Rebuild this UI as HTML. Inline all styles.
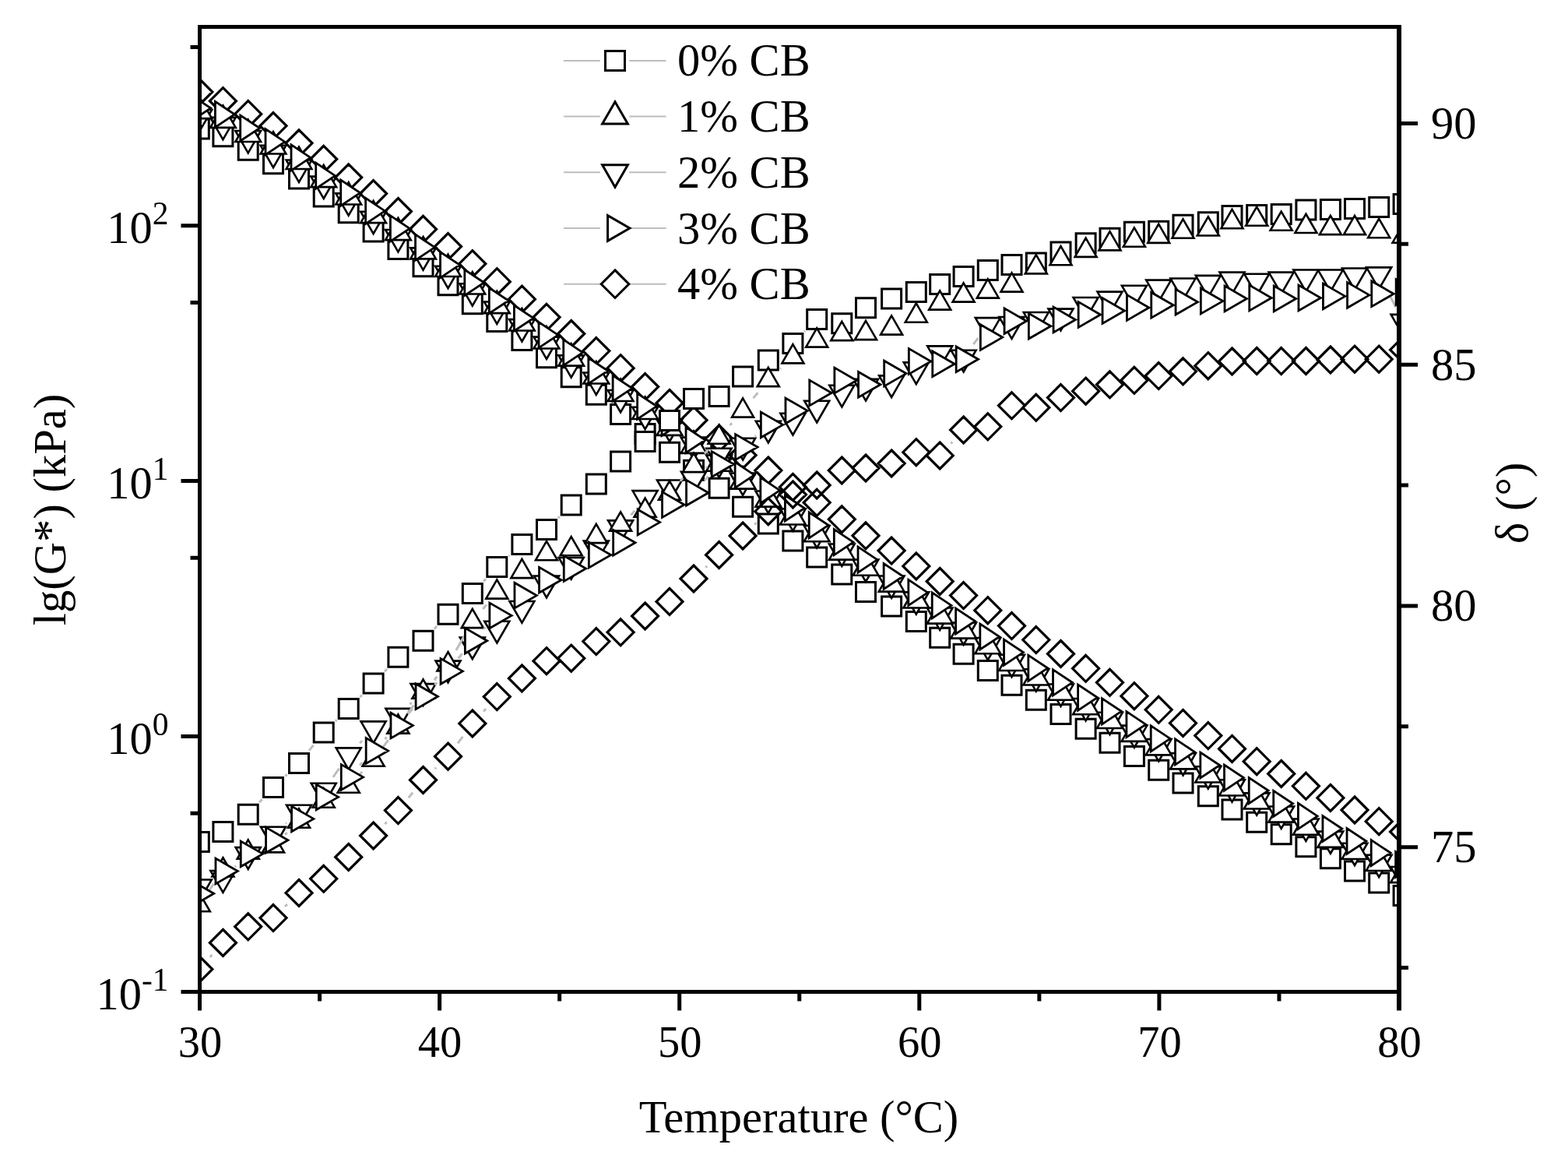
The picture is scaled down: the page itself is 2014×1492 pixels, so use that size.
<!DOCTYPE html><html><head><meta charset="utf-8"><title>lg(G*) and δ vs Temperature</title>
<style>html,body{margin:0;padding:0;background:#fff;}svg{display:block;}</style></head><body>
<svg width="2014" height="1492" viewBox="0 0 2014 1492">
<rect width="2014" height="1492" fill="#fff"/>
<defs><clipPath id="pc"><rect x="256.5" y="34.5" width="1540.5" height="1239"/></clipPath></defs>
<g clip-path="url(#pc)" stroke-linejoin="miter" stroke-miterlimit="4">
<path d="M243.3 153 L268.3 153 L268.3 178 L243.3 178 ZM273.9 162.8 L298.9 162.8 L298.9 187.8 L273.9 187.8 ZM306.2 180.2 L331.2 180.2 L331.2 205.2 L306.2 205.2 ZM338.5 197.8 L363.5 197.8 L363.5 222.8 L338.5 222.8 ZM371.5 217.1 L396.5 217.1 L396.5 242.1 L371.5 242.1 ZM403.2 239.9 L428.2 239.9 L428.2 264.9 L403.2 264.9 ZM435.2 260.8 L460.2 260.8 L460.2 285.8 L435.2 285.8 ZM467.1 285 L492.1 285 L492.1 310 L467.1 310 ZM498.9 307.6 L523.9 307.6 L523.9 332.6 L498.9 332.6 ZM531 329.7 L556 329.7 L556 354.7 L531 354.7 ZM563 353.8 L588 353.8 L588 378.8 L563 378.8 ZM594.3 377.8 L619.3 377.8 L619.3 402.8 L594.3 402.8 ZM625.8 400.5 L650.8 400.5 L650.8 425.5 L625.8 425.5 ZM657.9 424.6 L682.9 424.6 L682.9 449.6 L657.9 449.6 ZM689.5 446.7 L714.5 446.7 L714.5 471.7 L689.5 471.7 ZM721.2 471.8 L746.2 471.8 L746.2 496.8 L721.2 496.8 ZM753.3 494.3 L778.3 494.3 L778.3 519.3 L753.3 519.3 ZM784.6 519.6 L809.6 519.6 L809.6 544.6 L784.6 544.6 ZM816.1 544.5 L841.1 544.5 L841.1 569.5 L816.1 569.5 ZM847.5 568.2 L872.5 568.2 L872.5 593.2 L847.5 593.2 ZM878.5 591.2 L903.5 591.2 L903.5 616.2 L878.5 616.2 ZM911.1 614.2 L936.1 614.2 L936.1 639.2 L911.1 639.2 ZM941.6 638.3 L966.6 638.3 L966.6 663.3 L941.6 663.3 ZM974.3 660.1 L999.3 660.1 L999.3 685.1 L974.3 685.1 ZM1005.9 682 L1030.9 682 L1030.9 707 L1005.9 707 ZM1036.7 703 L1061.7 703 L1061.7 728 L1036.7 728 ZM1068.8 725 L1093.8 725 L1093.8 750 L1068.8 750 ZM1099.5 747.5 L1124.5 747.5 L1124.5 772.5 L1099.5 772.5 ZM1132.6 765.9 L1157.6 765.9 L1157.6 790.9 L1132.6 790.9 ZM1164.3 785.5 L1189.3 785.5 L1189.3 810.5 L1164.3 810.5 ZM1194.7 806.3 L1219.7 806.3 L1219.7 831.3 L1194.7 831.3 ZM1225.1 827.2 L1250.1 827.2 L1250.1 852.2 L1225.1 852.2 ZM1256.3 848.5 L1281.3 848.5 L1281.3 873.5 L1256.3 873.5 ZM1287 867.2 L1312 867.2 L1312 892.2 L1287 892.2 ZM1318.3 886.3 L1343.3 886.3 L1343.3 911.3 L1318.3 911.3 ZM1350 904.4 L1375 904.4 L1375 929.4 L1350 929.4 ZM1382.1 923.3 L1407.1 923.3 L1407.1 948.3 L1382.1 948.3 ZM1413 941.3 L1438 941.3 L1438 966.3 L1413 966.3 ZM1444.4 958.5 L1469.4 958.5 L1469.4 983.5 L1444.4 983.5 ZM1475.7 976.3 L1500.7 976.3 L1500.7 1001.3 L1475.7 1001.3 ZM1507 993.1 L1532 993.1 L1532 1018.1 L1507 1018.1 ZM1539.3 1009.7 L1564.3 1009.7 L1564.3 1034.7 L1539.3 1034.7 ZM1570 1027.1 L1595 1027.1 L1595 1052.1 L1570 1052.1 ZM1601.7 1043.2 L1626.7 1043.2 L1626.7 1068.2 L1601.7 1068.2 ZM1633.2 1058.8 L1658.2 1058.8 L1658.2 1083.8 L1633.2 1083.8 ZM1664.9 1074.8 L1689.9 1074.8 L1689.9 1099.8 L1664.9 1099.8 ZM1696.4 1089.8 L1721.4 1089.8 L1721.4 1114.8 L1696.4 1114.8 ZM1727.5 1105.9 L1752.5 1105.9 L1752.5 1130.9 L1727.5 1130.9 ZM1758.7 1121.1 L1783.7 1121.1 L1783.7 1146.1 L1758.7 1146.1 ZM1790.1 1137.5 L1815.1 1137.5 L1815.1 1162.5 L1790.1 1162.5 Z" fill="#fff" stroke="none"/>
<path d="M243.3 153 L268.3 153 L268.3 178 L243.3 178 ZM273.9 162.8 L298.9 162.8 L298.9 187.8 L273.9 187.8 ZM306.2 180.2 L331.2 180.2 L331.2 205.2 L306.2 205.2 ZM338.5 197.8 L363.5 197.8 L363.5 222.8 L338.5 222.8 ZM371.5 217.1 L396.5 217.1 L396.5 242.1 L371.5 242.1 ZM403.2 239.9 L428.2 239.9 L428.2 264.9 L403.2 264.9 ZM435.2 260.8 L460.2 260.8 L460.2 285.8 L435.2 285.8 ZM467.1 285 L492.1 285 L492.1 310 L467.1 310 ZM498.9 307.6 L523.9 307.6 L523.9 332.6 L498.9 332.6 ZM531 329.7 L556 329.7 L556 354.7 L531 354.7 ZM563 353.8 L588 353.8 L588 378.8 L563 378.8 ZM594.3 377.8 L619.3 377.8 L619.3 402.8 L594.3 402.8 ZM625.8 400.5 L650.8 400.5 L650.8 425.5 L625.8 425.5 ZM657.9 424.6 L682.9 424.6 L682.9 449.6 L657.9 449.6 ZM689.5 446.7 L714.5 446.7 L714.5 471.7 L689.5 471.7 ZM721.2 471.8 L746.2 471.8 L746.2 496.8 L721.2 496.8 ZM753.3 494.3 L778.3 494.3 L778.3 519.3 L753.3 519.3 ZM784.6 519.6 L809.6 519.6 L809.6 544.6 L784.6 544.6 ZM816.1 544.5 L841.1 544.5 L841.1 569.5 L816.1 569.5 ZM847.5 568.2 L872.5 568.2 L872.5 593.2 L847.5 593.2 ZM878.5 591.2 L903.5 591.2 L903.5 616.2 L878.5 616.2 ZM911.1 614.2 L936.1 614.2 L936.1 639.2 L911.1 639.2 ZM941.6 638.3 L966.6 638.3 L966.6 663.3 L941.6 663.3 ZM974.3 660.1 L999.3 660.1 L999.3 685.1 L974.3 685.1 ZM1005.9 682 L1030.9 682 L1030.9 707 L1005.9 707 ZM1036.7 703 L1061.7 703 L1061.7 728 L1036.7 728 ZM1068.8 725 L1093.8 725 L1093.8 750 L1068.8 750 ZM1099.5 747.5 L1124.5 747.5 L1124.5 772.5 L1099.5 772.5 ZM1132.6 765.9 L1157.6 765.9 L1157.6 790.9 L1132.6 790.9 ZM1164.3 785.5 L1189.3 785.5 L1189.3 810.5 L1164.3 810.5 ZM1194.7 806.3 L1219.7 806.3 L1219.7 831.3 L1194.7 831.3 ZM1225.1 827.2 L1250.1 827.2 L1250.1 852.2 L1225.1 852.2 ZM1256.3 848.5 L1281.3 848.5 L1281.3 873.5 L1256.3 873.5 ZM1287 867.2 L1312 867.2 L1312 892.2 L1287 892.2 ZM1318.3 886.3 L1343.3 886.3 L1343.3 911.3 L1318.3 911.3 ZM1350 904.4 L1375 904.4 L1375 929.4 L1350 929.4 ZM1382.1 923.3 L1407.1 923.3 L1407.1 948.3 L1382.1 948.3 ZM1413 941.3 L1438 941.3 L1438 966.3 L1413 966.3 ZM1444.4 958.5 L1469.4 958.5 L1469.4 983.5 L1444.4 983.5 ZM1475.7 976.3 L1500.7 976.3 L1500.7 1001.3 L1475.7 1001.3 ZM1507 993.1 L1532 993.1 L1532 1018.1 L1507 1018.1 ZM1539.3 1009.7 L1564.3 1009.7 L1564.3 1034.7 L1539.3 1034.7 ZM1570 1027.1 L1595 1027.1 L1595 1052.1 L1570 1052.1 ZM1601.7 1043.2 L1626.7 1043.2 L1626.7 1068.2 L1601.7 1068.2 ZM1633.2 1058.8 L1658.2 1058.8 L1658.2 1083.8 L1633.2 1083.8 ZM1664.9 1074.8 L1689.9 1074.8 L1689.9 1099.8 L1664.9 1099.8 ZM1696.4 1089.8 L1721.4 1089.8 L1721.4 1114.8 L1696.4 1114.8 ZM1727.5 1105.9 L1752.5 1105.9 L1752.5 1130.9 L1727.5 1130.9 ZM1758.7 1121.1 L1783.7 1121.1 L1783.7 1146.1 L1758.7 1146.1 ZM1790.1 1137.5 L1815.1 1137.5 L1815.1 1162.5 L1790.1 1162.5 Z" fill="none" stroke="#000" stroke-width="3"/>
<path d="M255.8 169.38 L272.15 141.06 L239.45 141.06 ZM286.4 179.18 L302.75 150.86 L270.05 150.86 ZM318.7 196.28 L335.05 167.96 L302.35 167.96 ZM351 215.08 L367.35 186.76 L334.65 186.76 ZM384 233.88 L400.35 205.56 L367.65 205.56 ZM415.7 254.98 L432.05 226.66 L399.35 226.66 ZM447.7 276.68 L464.05 248.36 L431.35 248.36 ZM479.6 300.08 L495.95 271.76 L463.25 271.76 ZM511.4 323.38 L527.75 295.06 L495.05 295.06 ZM543.5 346.68 L559.85 318.36 L527.15 318.36 ZM575.5 370.08 L591.85 341.76 L559.15 341.76 ZM606.8 392.58 L623.15 364.26 L590.45 364.26 ZM638.3 415.88 L654.65 387.56 L621.95 387.56 ZM670.4 438.48 L686.75 410.16 L654.05 410.16 ZM702 460.98 L718.35 432.66 L685.65 432.66 ZM733.7 484.68 L750.05 456.36 L717.35 456.36 ZM765.8 506.88 L782.15 478.56 L749.45 478.56 ZM797.1 529.38 L813.45 501.06 L780.75 501.06 ZM828.6 551.08 L844.95 522.76 L812.25 522.76 ZM860 566.98 L876.35 538.66 L843.65 538.66 ZM891 589.98 L907.35 561.66 L874.65 561.66 ZM923.6 612.88 L939.95 584.56 L907.25 584.56 ZM954.1 635.78 L970.45 607.46 L937.75 607.46 ZM986.8 658.78 L1003.15 630.46 L970.45 630.46 ZM1018.4 681.68 L1034.75 653.36 L1002.05 653.36 ZM1049.2 703.38 L1065.55 675.06 L1032.85 675.06 ZM1081.3 726.78 L1097.65 698.46 L1064.95 698.46 ZM1112 746.88 L1128.35 718.56 L1095.65 718.56 ZM1145.1 767.78 L1161.45 739.46 L1128.75 739.46 ZM1176.8 788.68 L1193.15 760.36 L1160.45 760.36 ZM1207.2 808.78 L1223.55 780.46 L1190.85 780.46 ZM1237.6 827.78 L1253.95 799.46 L1221.25 799.46 ZM1268.8 847.38 L1285.15 819.06 L1252.45 819.06 ZM1299.5 869.08 L1315.85 840.76 L1283.15 840.76 ZM1330.8 887.58 L1347.15 859.26 L1314.45 859.26 ZM1362.5 906.88 L1378.85 878.56 L1346.15 878.56 ZM1394.6 925.38 L1410.95 897.06 L1378.25 897.06 ZM1425.5 943.08 L1441.85 914.76 L1409.15 914.76 ZM1456.9 959.98 L1473.25 931.66 L1440.55 931.66 ZM1488.2 977.48 L1504.55 949.16 L1471.85 949.16 ZM1519.5 995.48 L1535.85 967.16 L1503.15 967.16 ZM1551.8 1012.58 L1568.15 984.26 L1535.45 984.26 ZM1582.5 1029.58 L1598.85 1001.26 L1566.15 1001.26 ZM1614.2 1046.68 L1630.55 1018.36 L1597.85 1018.36 ZM1645.7 1063.78 L1662.05 1035.46 L1629.35 1035.46 ZM1677.4 1079.88 L1693.75 1051.56 L1661.05 1051.56 ZM1708.9 1095.98 L1725.25 1067.66 L1692.55 1067.66 ZM1740 1111.08 L1756.35 1082.76 L1723.65 1082.76 ZM1771.2 1126.08 L1787.55 1097.76 L1754.85 1097.76 ZM1802.6 1141.28 L1818.95 1112.96 L1786.25 1112.96 Z" fill="#fff" stroke="none"/>
<path d="M255.8 169.38 L272.15 141.06 L239.45 141.06 ZM286.4 179.18 L302.75 150.86 L270.05 150.86 ZM318.7 196.28 L335.05 167.96 L302.35 167.96 ZM351 215.08 L367.35 186.76 L334.65 186.76 ZM384 233.88 L400.35 205.56 L367.65 205.56 ZM415.7 254.98 L432.05 226.66 L399.35 226.66 ZM447.7 276.68 L464.05 248.36 L431.35 248.36 ZM479.6 300.08 L495.95 271.76 L463.25 271.76 ZM511.4 323.38 L527.75 295.06 L495.05 295.06 ZM543.5 346.68 L559.85 318.36 L527.15 318.36 ZM575.5 370.08 L591.85 341.76 L559.15 341.76 ZM606.8 392.58 L623.15 364.26 L590.45 364.26 ZM638.3 415.88 L654.65 387.56 L621.95 387.56 ZM670.4 438.48 L686.75 410.16 L654.05 410.16 ZM702 460.98 L718.35 432.66 L685.65 432.66 ZM733.7 484.68 L750.05 456.36 L717.35 456.36 ZM765.8 506.88 L782.15 478.56 L749.45 478.56 ZM797.1 529.38 L813.45 501.06 L780.75 501.06 ZM828.6 551.08 L844.95 522.76 L812.25 522.76 ZM860 566.98 L876.35 538.66 L843.65 538.66 ZM891 589.98 L907.35 561.66 L874.65 561.66 ZM923.6 612.88 L939.95 584.56 L907.25 584.56 ZM954.1 635.78 L970.45 607.46 L937.75 607.46 ZM986.8 658.78 L1003.15 630.46 L970.45 630.46 ZM1018.4 681.68 L1034.75 653.36 L1002.05 653.36 ZM1049.2 703.38 L1065.55 675.06 L1032.85 675.06 ZM1081.3 726.78 L1097.65 698.46 L1064.95 698.46 ZM1112 746.88 L1128.35 718.56 L1095.65 718.56 ZM1145.1 767.78 L1161.45 739.46 L1128.75 739.46 ZM1176.8 788.68 L1193.15 760.36 L1160.45 760.36 ZM1207.2 808.78 L1223.55 780.46 L1190.85 780.46 ZM1237.6 827.78 L1253.95 799.46 L1221.25 799.46 ZM1268.8 847.38 L1285.15 819.06 L1252.45 819.06 ZM1299.5 869.08 L1315.85 840.76 L1283.15 840.76 ZM1330.8 887.58 L1347.15 859.26 L1314.45 859.26 ZM1362.5 906.88 L1378.85 878.56 L1346.15 878.56 ZM1394.6 925.38 L1410.95 897.06 L1378.25 897.06 ZM1425.5 943.08 L1441.85 914.76 L1409.15 914.76 ZM1456.9 959.98 L1473.25 931.66 L1440.55 931.66 ZM1488.2 977.48 L1504.55 949.16 L1471.85 949.16 ZM1519.5 995.48 L1535.85 967.16 L1503.15 967.16 ZM1551.8 1012.58 L1568.15 984.26 L1535.45 984.26 ZM1582.5 1029.58 L1598.85 1001.26 L1566.15 1001.26 ZM1614.2 1046.68 L1630.55 1018.36 L1597.85 1018.36 ZM1645.7 1063.78 L1662.05 1035.46 L1629.35 1035.46 ZM1677.4 1079.88 L1693.75 1051.56 L1661.05 1051.56 ZM1708.9 1095.98 L1725.25 1067.66 L1692.55 1067.66 ZM1740 1111.08 L1756.35 1082.76 L1723.65 1082.76 ZM1771.2 1126.08 L1787.55 1097.76 L1754.85 1097.76 ZM1802.6 1141.28 L1818.95 1112.96 L1786.25 1112.96 Z" fill="none" stroke="#000" stroke-width="2.6"/>
<path d="M255.8 101 L272.8 118 L255.8 135 L238.8 118 ZM286.4 112.7 L303.4 129.7 L286.4 146.7 L269.4 129.7 ZM318.7 129.4 L335.7 146.4 L318.7 163.4 L301.7 146.4 ZM351 144.6 L368 161.6 L351 178.6 L334 161.6 ZM384 166.8 L401 183.8 L384 200.8 L367 183.8 ZM415.7 187.3 L432.7 204.3 L415.7 221.3 L398.7 204.3 ZM447.7 210.8 L464.7 227.8 L447.7 244.8 L430.7 227.8 ZM479.6 231.6 L496.6 248.6 L479.6 265.6 L462.6 248.6 ZM511.4 254.5 L528.4 271.5 L511.4 288.5 L494.4 271.5 ZM543.5 277.3 L560.5 294.3 L543.5 311.3 L526.5 294.3 ZM575.5 299.6 L592.5 316.6 L575.5 333.6 L558.5 316.6 ZM606.8 321.7 L623.8 338.7 L606.8 355.7 L589.8 338.7 ZM638.3 344.7 L655.3 361.7 L638.3 378.7 L621.3 361.7 ZM670.4 367.2 L687.4 384.2 L670.4 401.2 L653.4 384.2 ZM702 390.3 L719 407.3 L702 424.3 L685 407.3 ZM733.7 411.5 L750.7 428.5 L733.7 445.5 L716.7 428.5 ZM765.8 433.6 L782.8 450.6 L765.8 467.6 L748.8 450.6 ZM797.1 455.7 L814.1 472.7 L797.1 489.7 L780.1 472.7 ZM828.6 479.6 L845.6 496.6 L828.6 513.6 L811.6 496.6 ZM860 500.5 L877 517.5 L860 534.5 L843 517.5 ZM891 522.5 L908 539.5 L891 556.5 L874 539.5 ZM923.6 546 L940.6 563 L923.6 580 L906.6 563 ZM954.1 567.5 L971.1 584.5 L954.1 601.5 L937.1 584.5 ZM986.8 587 L1003.8 604 L986.8 621 L969.8 604 ZM1018.4 608.4 L1035.4 625.4 L1018.4 642.4 L1001.4 625.4 ZM1049.2 628.3 L1066.2 645.3 L1049.2 662.3 L1032.2 645.3 ZM1081.3 649.8 L1098.3 666.8 L1081.3 683.8 L1064.3 666.8 ZM1112 670.8 L1129 687.8 L1112 704.8 L1095 687.8 ZM1145.1 690.1 L1162.1 707.1 L1145.1 724.1 L1128.1 707.1 ZM1176.8 709.9 L1193.8 726.9 L1176.8 743.9 L1159.8 726.9 ZM1207.2 729.5 L1224.2 746.5 L1207.2 763.5 L1190.2 746.5 ZM1237.6 747.6 L1254.6 764.6 L1237.6 781.6 L1220.6 764.6 ZM1268.8 766.7 L1285.8 783.7 L1268.8 800.7 L1251.8 783.7 ZM1299.5 786.6 L1316.5 803.6 L1299.5 820.6 L1282.5 803.6 ZM1330.8 804.6 L1347.8 821.6 L1330.8 838.6 L1313.8 821.6 ZM1362.5 822.5 L1379.5 839.5 L1362.5 856.5 L1345.5 839.5 ZM1394.6 841.3 L1411.6 858.3 L1394.6 875.3 L1377.6 858.3 ZM1425.5 859.3 L1442.5 876.3 L1425.5 893.3 L1408.5 876.3 ZM1456.9 876.7 L1473.9 893.7 L1456.9 910.7 L1439.9 893.7 ZM1488.2 894.3 L1505.2 911.3 L1488.2 928.3 L1471.2 911.3 ZM1519.5 911.4 L1536.5 928.4 L1519.5 945.4 L1502.5 928.4 ZM1551.8 927.6 L1568.8 944.6 L1551.8 961.6 L1534.8 944.6 ZM1582.5 944.4 L1599.5 961.4 L1582.5 978.4 L1565.5 961.4 ZM1614.2 960.7 L1631.2 977.7 L1614.2 994.7 L1597.2 977.7 ZM1645.7 976.5 L1662.7 993.5 L1645.7 1010.5 L1628.7 993.5 ZM1677.4 992.3 L1694.4 1009.3 L1677.4 1026.3 L1660.4 1009.3 ZM1708.9 1007.4 L1725.9 1024.4 L1708.9 1041.4 L1691.9 1024.4 ZM1740 1023 L1757 1040 L1740 1057 L1723 1040 ZM1771.2 1037.7 L1788.2 1054.7 L1771.2 1071.7 L1754.2 1054.7 ZM1802.6 1051 L1819.6 1068 L1802.6 1085 L1785.6 1068 Z" fill="none" stroke="#000" stroke-width="3.2"/>
<path d="M255.8 123.82 L272.15 152.14 L239.45 152.14 ZM286.4 135.52 L302.75 163.84 L270.05 163.84 ZM318.7 153.72 L335.05 182.04 L302.35 182.04 ZM351 169.22 L367.35 197.54 L334.65 197.54 ZM384 188.62 L400.35 216.94 L367.65 216.94 ZM415.7 211.82 L432.05 240.14 L399.35 240.14 ZM447.7 234.12 L464.05 262.44 L431.35 262.44 ZM479.6 257.82 L495.95 286.14 L463.25 286.14 ZM511.4 279.82 L527.75 308.14 L495.05 308.14 ZM543.5 304.02 L559.85 332.34 L527.15 332.34 ZM575.5 326.62 L591.85 354.94 L559.15 354.94 ZM606.8 349.12 L623.15 377.44 L590.45 377.44 ZM638.3 373.82 L654.65 402.14 L621.95 402.14 ZM670.4 396.22 L686.75 424.54 L654.05 424.54 ZM702 419.12 L718.35 447.44 L685.65 447.44 ZM733.7 441.32 L750.05 469.64 L717.35 469.64 ZM765.8 464.22 L782.15 492.54 L749.45 492.54 ZM797.1 486.72 L813.45 515.04 L780.75 515.04 ZM828.6 509.62 L844.95 537.94 L812.25 537.94 ZM860 530.52 L876.35 558.84 L843.65 558.84 ZM891 553.52 L907.35 581.84 L874.65 581.84 ZM923.6 576.42 L939.95 604.74 L907.25 604.74 ZM954.1 599.32 L970.45 627.64 L937.75 627.64 ZM986.8 622.32 L1003.15 650.64 L970.45 650.64 ZM1018.4 645.22 L1034.75 673.54 L1002.05 673.54 ZM1049.2 666.92 L1065.55 695.24 L1032.85 695.24 ZM1081.3 690.32 L1097.65 718.64 L1064.95 718.64 ZM1112 710.42 L1128.35 738.74 L1095.65 738.74 ZM1145.1 731.32 L1161.45 759.64 L1128.75 759.64 ZM1176.8 752.22 L1193.15 780.54 L1160.45 780.54 ZM1207.2 772.32 L1223.55 800.64 L1190.85 800.64 ZM1237.6 791.32 L1253.95 819.64 L1221.25 819.64 ZM1268.8 810.92 L1285.15 839.24 L1252.45 839.24 ZM1299.5 832.62 L1315.85 860.94 L1283.15 860.94 ZM1330.8 851.12 L1347.15 879.44 L1314.45 879.44 ZM1362.5 870.42 L1378.85 898.74 L1346.15 898.74 ZM1394.6 888.92 L1410.95 917.24 L1378.25 917.24 ZM1425.5 906.62 L1441.85 934.94 L1409.15 934.94 ZM1456.9 923.52 L1473.25 951.84 L1440.55 951.84 ZM1488.2 941.02 L1504.55 969.34 L1471.85 969.34 ZM1519.5 959.02 L1535.85 987.34 L1503.15 987.34 ZM1551.8 976.12 L1568.15 1004.44 L1535.45 1004.44 ZM1582.5 993.12 L1598.85 1021.44 L1566.15 1021.44 ZM1614.2 1010.22 L1630.55 1038.54 L1597.85 1038.54 ZM1645.7 1027.32 L1662.05 1055.64 L1629.35 1055.64 ZM1677.4 1043.42 L1693.75 1071.74 L1661.05 1071.74 ZM1708.9 1059.52 L1725.25 1087.84 L1692.55 1087.84 ZM1740 1074.62 L1756.35 1102.94 L1723.65 1102.94 ZM1771.2 1089.62 L1787.55 1117.94 L1754.85 1117.94 ZM1802.6 1104.82 L1818.95 1133.14 L1786.25 1133.14 Z" fill="#fff" stroke="none"/>
<path d="M255.8 123.82 L272.15 152.14 L239.45 152.14 ZM286.4 135.52 L302.75 163.84 L270.05 163.84 ZM318.7 153.72 L335.05 182.04 L302.35 182.04 ZM351 169.22 L367.35 197.54 L334.65 197.54 ZM384 188.62 L400.35 216.94 L367.65 216.94 ZM415.7 211.82 L432.05 240.14 L399.35 240.14 ZM447.7 234.12 L464.05 262.44 L431.35 262.44 ZM479.6 257.82 L495.95 286.14 L463.25 286.14 ZM511.4 279.82 L527.75 308.14 L495.05 308.14 ZM543.5 304.02 L559.85 332.34 L527.15 332.34 ZM575.5 326.62 L591.85 354.94 L559.15 354.94 ZM606.8 349.12 L623.15 377.44 L590.45 377.44 ZM638.3 373.82 L654.65 402.14 L621.95 402.14 ZM670.4 396.22 L686.75 424.54 L654.05 424.54 ZM702 419.12 L718.35 447.44 L685.65 447.44 ZM733.7 441.32 L750.05 469.64 L717.35 469.64 ZM765.8 464.22 L782.15 492.54 L749.45 492.54 ZM797.1 486.72 L813.45 515.04 L780.75 515.04 ZM828.6 509.62 L844.95 537.94 L812.25 537.94 ZM860 530.52 L876.35 558.84 L843.65 558.84 ZM891 553.52 L907.35 581.84 L874.65 581.84 ZM923.6 576.42 L939.95 604.74 L907.25 604.74 ZM954.1 599.32 L970.45 627.64 L937.75 627.64 ZM986.8 622.32 L1003.15 650.64 L970.45 650.64 ZM1018.4 645.22 L1034.75 673.54 L1002.05 673.54 ZM1049.2 666.92 L1065.55 695.24 L1032.85 695.24 ZM1081.3 690.32 L1097.65 718.64 L1064.95 718.64 ZM1112 710.42 L1128.35 738.74 L1095.65 738.74 ZM1145.1 731.32 L1161.45 759.64 L1128.75 759.64 ZM1176.8 752.22 L1193.15 780.54 L1160.45 780.54 ZM1207.2 772.32 L1223.55 800.64 L1190.85 800.64 ZM1237.6 791.32 L1253.95 819.64 L1221.25 819.64 ZM1268.8 810.92 L1285.15 839.24 L1252.45 839.24 ZM1299.5 832.62 L1315.85 860.94 L1283.15 860.94 ZM1330.8 851.12 L1347.15 879.44 L1314.45 879.44 ZM1362.5 870.42 L1378.85 898.74 L1346.15 898.74 ZM1394.6 888.92 L1410.95 917.24 L1378.25 917.24 ZM1425.5 906.62 L1441.85 934.94 L1409.15 934.94 ZM1456.9 923.52 L1473.25 951.84 L1440.55 951.84 ZM1488.2 941.02 L1504.55 969.34 L1471.85 969.34 ZM1519.5 959.02 L1535.85 987.34 L1503.15 987.34 ZM1551.8 976.12 L1568.15 1004.44 L1535.45 1004.44 ZM1582.5 993.12 L1598.85 1021.44 L1566.15 1021.44 ZM1614.2 1010.22 L1630.55 1038.54 L1597.85 1038.54 ZM1645.7 1027.32 L1662.05 1055.64 L1629.35 1055.64 ZM1677.4 1043.42 L1693.75 1071.74 L1661.05 1071.74 ZM1708.9 1059.52 L1725.25 1087.84 L1692.55 1087.84 ZM1740 1074.62 L1756.35 1102.94 L1723.65 1102.94 ZM1771.2 1089.62 L1787.55 1117.94 L1754.85 1117.94 ZM1802.6 1104.82 L1818.95 1133.14 L1786.25 1133.14 Z" fill="none" stroke="#000" stroke-width="2.6"/>
<path d="M270.63 138.8 L245.83 155.3 L245.83 122.3 ZM301.23 146.8 L276.43 163.3 L276.43 130.3 ZM333.53 164.5 L308.73 181 L308.73 148 ZM365.83 182.2 L341.03 198.7 L341.03 165.7 ZM398.83 202.4 L374.03 218.9 L374.03 185.9 ZM430.53 225.7 L405.73 242.2 L405.73 209.2 ZM462.53 247.6 L437.73 264.1 L437.73 231.1 ZM494.43 270.9 L469.63 287.4 L469.63 254.4 ZM526.23 293.4 L501.43 309.9 L501.43 276.9 ZM558.33 317.6 L533.53 334.1 L533.53 301.1 ZM590.33 340.1 L565.53 356.6 L565.53 323.6 ZM621.63 362.8 L596.83 379.3 L596.83 346.3 ZM653.13 386 L628.33 402.5 L628.33 369.5 ZM685.23 408.5 L660.43 425 L660.43 392 ZM716.83 430.2 L692.03 446.7 L692.03 413.7 ZM748.53 452.7 L723.73 469.2 L723.73 436.2 ZM780.63 476.1 L755.83 492.6 L755.83 459.6 ZM811.93 498.6 L787.13 515.1 L787.13 482.1 ZM843.43 521.6 L818.63 538.1 L818.63 505.1 ZM874.83 543 L850.03 559.5 L850.03 526.5 ZM905.83 565 L881.03 581.5 L881.03 548.5 ZM938.43 589.8 L913.63 606.3 L913.63 573.3 ZM968.93 609.9 L944.13 626.4 L944.13 593.4 ZM1001.63 629.7 L976.83 646.2 L976.83 613.2 ZM1033.23 652.5 L1008.43 669 L1008.43 636 ZM1064.03 674.3 L1039.23 690.8 L1039.23 657.8 ZM1096.13 696.2 L1071.33 712.7 L1071.33 679.7 ZM1126.83 718.7 L1102.03 735.2 L1102.03 702.2 ZM1159.93 740 L1135.13 756.5 L1135.13 723.5 ZM1191.63 760.9 L1166.83 777.4 L1166.83 744.4 ZM1222.03 777.4 L1197.23 793.9 L1197.23 760.9 ZM1252.43 797.5 L1227.63 814 L1227.63 781 ZM1283.63 817.5 L1258.83 834 L1258.83 801 ZM1314.33 837.6 L1289.53 854.1 L1289.53 821.1 ZM1345.63 857.8 L1320.83 874.3 L1320.83 841.3 ZM1377.33 876.3 L1352.53 892.8 L1352.53 859.8 ZM1409.43 895.6 L1384.63 912.1 L1384.63 879.1 ZM1440.33 913.3 L1415.53 929.8 L1415.53 896.8 ZM1471.73 930.2 L1446.93 946.7 L1446.93 913.7 ZM1503.03 948.4 L1478.23 964.9 L1478.23 931.9 ZM1534.33 965.4 L1509.53 981.9 L1509.53 948.9 ZM1566.63 982.5 L1541.83 999 L1541.83 966 ZM1597.33 998.6 L1572.53 1015.1 L1572.53 982.1 ZM1629.03 1015.1 L1604.23 1031.6 L1604.23 998.6 ZM1660.53 1031.8 L1635.73 1048.3 L1635.73 1015.3 ZM1692.23 1047.9 L1667.43 1064.4 L1667.43 1031.4 ZM1723.73 1064 L1698.93 1080.5 L1698.93 1047.5 ZM1754.83 1080 L1730.03 1096.5 L1730.03 1063.5 ZM1786.03 1095.1 L1761.23 1111.6 L1761.23 1078.6 ZM1817.43 1110 L1792.63 1126.5 L1792.63 1093.5 Z" fill="#fff" stroke="none"/>
<path d="M270.63 138.8 L245.83 155.3 L245.83 122.3 ZM301.23 146.8 L276.43 163.3 L276.43 130.3 ZM333.53 164.5 L308.73 181 L308.73 148 ZM365.83 182.2 L341.03 198.7 L341.03 165.7 ZM398.83 202.4 L374.03 218.9 L374.03 185.9 ZM430.53 225.7 L405.73 242.2 L405.73 209.2 ZM462.53 247.6 L437.73 264.1 L437.73 231.1 ZM494.43 270.9 L469.63 287.4 L469.63 254.4 ZM526.23 293.4 L501.43 309.9 L501.43 276.9 ZM558.33 317.6 L533.53 334.1 L533.53 301.1 ZM590.33 340.1 L565.53 356.6 L565.53 323.6 ZM621.63 362.8 L596.83 379.3 L596.83 346.3 ZM653.13 386 L628.33 402.5 L628.33 369.5 ZM685.23 408.5 L660.43 425 L660.43 392 ZM716.83 430.2 L692.03 446.7 L692.03 413.7 ZM748.53 452.7 L723.73 469.2 L723.73 436.2 ZM780.63 476.1 L755.83 492.6 L755.83 459.6 ZM811.93 498.6 L787.13 515.1 L787.13 482.1 ZM843.43 521.6 L818.63 538.1 L818.63 505.1 ZM874.83 543 L850.03 559.5 L850.03 526.5 ZM905.83 565 L881.03 581.5 L881.03 548.5 ZM938.43 589.8 L913.63 606.3 L913.63 573.3 ZM968.93 609.9 L944.13 626.4 L944.13 593.4 ZM1001.63 629.7 L976.83 646.2 L976.83 613.2 ZM1033.23 652.5 L1008.43 669 L1008.43 636 ZM1064.03 674.3 L1039.23 690.8 L1039.23 657.8 ZM1096.13 696.2 L1071.33 712.7 L1071.33 679.7 ZM1126.83 718.7 L1102.03 735.2 L1102.03 702.2 ZM1159.93 740 L1135.13 756.5 L1135.13 723.5 ZM1191.63 760.9 L1166.83 777.4 L1166.83 744.4 ZM1222.03 777.4 L1197.23 793.9 L1197.23 760.9 ZM1252.43 797.5 L1227.63 814 L1227.63 781 ZM1283.63 817.5 L1258.83 834 L1258.83 801 ZM1314.33 837.6 L1289.53 854.1 L1289.53 821.1 ZM1345.63 857.8 L1320.83 874.3 L1320.83 841.3 ZM1377.33 876.3 L1352.53 892.8 L1352.53 859.8 ZM1409.43 895.6 L1384.63 912.1 L1384.63 879.1 ZM1440.33 913.3 L1415.53 929.8 L1415.53 896.8 ZM1471.73 930.2 L1446.93 946.7 L1446.93 913.7 ZM1503.03 948.4 L1478.23 964.9 L1478.23 931.9 ZM1534.33 965.4 L1509.53 981.9 L1509.53 948.9 ZM1566.63 982.5 L1541.83 999 L1541.83 966 ZM1597.33 998.6 L1572.53 1015.1 L1572.53 982.1 ZM1629.03 1015.1 L1604.23 1031.6 L1604.23 998.6 ZM1660.53 1031.8 L1635.73 1048.3 L1635.73 1015.3 ZM1692.23 1047.9 L1667.43 1064.4 L1667.43 1031.4 ZM1723.73 1064 L1698.93 1080.5 L1698.93 1047.5 ZM1754.83 1080 L1730.03 1096.5 L1730.03 1063.5 ZM1786.03 1095.1 L1761.23 1111.6 L1761.23 1078.6 ZM1817.43 1110 L1792.63 1126.5 L1792.63 1093.5 Z" fill="none" stroke="#000" stroke-width="2.8"/>
<path d="M333.01 1030.33L336.69 1026.37M366.31 996.62L368.69 994.38M397.14 963.62L402.56 956.88M430.88 925.99L432.52 924.41M462.46 894.96L464.84 892.54M493.99 862.31L497.01 859.09M557.92 807.43L561.08 804.07M621.09 746.52L624.01 743.38M653.88 713.92L654.82 713.08M716.87 665.17L718.83 663.23M781.23 607.15L781.67 606.75M1033.23 426.03L1034.37 424.87" fill="none" stroke="#bdbdbd" stroke-width="3"/>
<path d="M243.3 1068.4 L268.3 1068.4 L268.3 1093.4 L243.3 1093.4 ZM273.9 1055.5 L298.9 1055.5 L298.9 1080.5 L273.9 1080.5 ZM306.2 1033.2 L331.2 1033.2 L331.2 1058.2 L306.2 1058.2 ZM338.5 998.5 L363.5 998.5 L363.5 1023.5 L338.5 1023.5 ZM371.5 967.5 L396.5 967.5 L396.5 992.5 L371.5 992.5 ZM403.2 928 L428.2 928 L428.2 953 L403.2 953 ZM435.2 897.4 L460.2 897.4 L460.2 922.4 L435.2 922.4 ZM467.1 865.1 L492.1 865.1 L492.1 890.1 L467.1 890.1 ZM498.9 831.3 L523.9 831.3 L523.9 856.3 L498.9 856.3 ZM531 810.2 L556 810.2 L556 835.2 L531 835.2 ZM563 776.3 L588 776.3 L588 801.3 L563 801.3 ZM594.3 749.4 L619.3 749.4 L619.3 774.4 L594.3 774.4 ZM625.8 715.5 L650.8 715.5 L650.8 740.5 L625.8 740.5 ZM657.9 686.5 L682.9 686.5 L682.9 711.5 L657.9 711.5 ZM689.5 667.5 L714.5 667.5 L714.5 692.5 L689.5 692.5 ZM721.2 635.9 L746.2 635.9 L746.2 660.9 L721.2 660.9 ZM753.3 608.9 L778.3 608.9 L778.3 633.9 L753.3 633.9 ZM784.6 580 L809.6 580 L809.6 605 L784.6 605 ZM816.1 554.6 L841.1 554.6 L841.1 579.6 L816.1 579.6 ZM847.5 527.6 L872.5 527.6 L872.5 552.6 L847.5 552.6 ZM878.5 499.5 L903.5 499.5 L903.5 524.5 L878.5 524.5 ZM911.1 496.4 L936.1 496.4 L936.1 521.4 L911.1 521.4 ZM941.6 471.1 L966.6 471.1 L966.6 496.1 L941.6 496.1 ZM974.3 450.1 L999.3 450.1 L999.3 475.1 L974.3 475.1 ZM1005.9 428.4 L1030.9 428.4 L1030.9 453.4 L1005.9 453.4 ZM1036.7 397.5 L1061.7 397.5 L1061.7 422.5 L1036.7 422.5 ZM1068.8 402.7 L1093.8 402.7 L1093.8 427.7 L1068.8 427.7 ZM1099.5 382.7 L1124.5 382.7 L1124.5 407.7 L1099.5 407.7 ZM1132.6 371 L1157.6 371 L1157.6 396 L1132.6 396 ZM1164.3 362.5 L1189.3 362.5 L1189.3 387.5 L1164.3 387.5 ZM1194.7 352.4 L1219.7 352.4 L1219.7 377.4 L1194.7 377.4 ZM1225.1 342.4 L1250.1 342.4 L1250.1 367.4 L1225.1 367.4 ZM1256.3 334.4 L1281.3 334.4 L1281.3 359.4 L1256.3 359.4 ZM1287 327.4 L1312 327.4 L1312 352.4 L1287 352.4 ZM1318.3 325.1 L1343.3 325.1 L1343.3 350.1 L1318.3 350.1 ZM1350 311 L1375 311 L1375 336 L1350 336 ZM1382.1 299.8 L1407.1 299.8 L1407.1 324.8 L1382.1 324.8 ZM1413 293.2 L1438 293.2 L1438 318.2 L1413 318.2 ZM1444.4 285.3 L1469.4 285.3 L1469.4 310.3 L1444.4 310.3 ZM1475.7 284.3 L1500.7 284.3 L1500.7 309.3 L1475.7 309.3 ZM1507 276.3 L1532 276.3 L1532 301.3 L1507 301.3 ZM1539.3 272.8 L1564.3 272.8 L1564.3 297.8 L1539.3 297.8 ZM1570 264.4 L1595 264.4 L1595 289.4 L1570 289.4 ZM1601.7 263.4 L1626.7 263.4 L1626.7 288.4 L1601.7 288.4 ZM1633.2 262.4 L1658.2 262.4 L1658.2 287.4 L1633.2 287.4 ZM1664.9 257.1 L1689.9 257.1 L1689.9 282.1 L1664.9 282.1 ZM1696.4 256.5 L1721.4 256.5 L1721.4 281.5 L1696.4 281.5 ZM1727.5 255.5 L1752.5 255.5 L1752.5 280.5 L1727.5 280.5 ZM1758.7 253.6 L1783.7 253.6 L1783.7 278.6 L1758.7 278.6 ZM1790.1 249.4 L1815.1 249.4 L1815.1 274.4 L1790.1 274.4 Z" fill="#fff" stroke="none"/>
<path d="M243.3 1068.4 L268.3 1068.4 L268.3 1093.4 L243.3 1093.4 ZM273.9 1055.5 L298.9 1055.5 L298.9 1080.5 L273.9 1080.5 ZM306.2 1033.2 L331.2 1033.2 L331.2 1058.2 L306.2 1058.2 ZM338.5 998.5 L363.5 998.5 L363.5 1023.5 L338.5 1023.5 ZM371.5 967.5 L396.5 967.5 L396.5 992.5 L371.5 992.5 ZM403.2 928 L428.2 928 L428.2 953 L403.2 953 ZM435.2 897.4 L460.2 897.4 L460.2 922.4 L435.2 922.4 ZM467.1 865.1 L492.1 865.1 L492.1 890.1 L467.1 890.1 ZM498.9 831.3 L523.9 831.3 L523.9 856.3 L498.9 856.3 ZM531 810.2 L556 810.2 L556 835.2 L531 835.2 ZM563 776.3 L588 776.3 L588 801.3 L563 801.3 ZM594.3 749.4 L619.3 749.4 L619.3 774.4 L594.3 774.4 ZM625.8 715.5 L650.8 715.5 L650.8 740.5 L625.8 740.5 ZM657.9 686.5 L682.9 686.5 L682.9 711.5 L657.9 711.5 ZM689.5 667.5 L714.5 667.5 L714.5 692.5 L689.5 692.5 ZM721.2 635.9 L746.2 635.9 L746.2 660.9 L721.2 660.9 ZM753.3 608.9 L778.3 608.9 L778.3 633.9 L753.3 633.9 ZM784.6 580 L809.6 580 L809.6 605 L784.6 605 ZM816.1 554.6 L841.1 554.6 L841.1 579.6 L816.1 579.6 ZM847.5 527.6 L872.5 527.6 L872.5 552.6 L847.5 552.6 ZM878.5 499.5 L903.5 499.5 L903.5 524.5 L878.5 524.5 ZM911.1 496.4 L936.1 496.4 L936.1 521.4 L911.1 521.4 ZM941.6 471.1 L966.6 471.1 L966.6 496.1 L941.6 496.1 ZM974.3 450.1 L999.3 450.1 L999.3 475.1 L974.3 475.1 ZM1005.9 428.4 L1030.9 428.4 L1030.9 453.4 L1005.9 453.4 ZM1036.7 397.5 L1061.7 397.5 L1061.7 422.5 L1036.7 422.5 ZM1068.8 402.7 L1093.8 402.7 L1093.8 427.7 L1068.8 427.7 ZM1099.5 382.7 L1124.5 382.7 L1124.5 407.7 L1099.5 407.7 ZM1132.6 371 L1157.6 371 L1157.6 396 L1132.6 396 ZM1164.3 362.5 L1189.3 362.5 L1189.3 387.5 L1164.3 387.5 ZM1194.7 352.4 L1219.7 352.4 L1219.7 377.4 L1194.7 377.4 ZM1225.1 342.4 L1250.1 342.4 L1250.1 367.4 L1225.1 367.4 ZM1256.3 334.4 L1281.3 334.4 L1281.3 359.4 L1256.3 359.4 ZM1287 327.4 L1312 327.4 L1312 352.4 L1287 352.4 ZM1318.3 325.1 L1343.3 325.1 L1343.3 350.1 L1318.3 350.1 ZM1350 311 L1375 311 L1375 336 L1350 336 ZM1382.1 299.8 L1407.1 299.8 L1407.1 324.8 L1382.1 324.8 ZM1413 293.2 L1438 293.2 L1438 318.2 L1413 318.2 ZM1444.4 285.3 L1469.4 285.3 L1469.4 310.3 L1444.4 310.3 ZM1475.7 284.3 L1500.7 284.3 L1500.7 309.3 L1475.7 309.3 ZM1507 276.3 L1532 276.3 L1532 301.3 L1507 301.3 ZM1539.3 272.8 L1564.3 272.8 L1564.3 297.8 L1539.3 297.8 ZM1570 264.4 L1595 264.4 L1595 289.4 L1570 289.4 ZM1601.7 263.4 L1626.7 263.4 L1626.7 288.4 L1601.7 288.4 ZM1633.2 262.4 L1658.2 262.4 L1658.2 287.4 L1633.2 287.4 ZM1664.9 257.1 L1689.9 257.1 L1689.9 282.1 L1664.9 282.1 ZM1696.4 256.5 L1721.4 256.5 L1721.4 281.5 L1696.4 281.5 ZM1727.5 255.5 L1752.5 255.5 L1752.5 280.5 L1727.5 280.5 ZM1758.7 253.6 L1783.7 253.6 L1783.7 278.6 L1758.7 278.6 ZM1790.1 249.4 L1815.1 249.4 L1815.1 274.4 L1790.1 274.4 Z" fill="none" stroke="#000" stroke-width="3"/>
<path d="M301.81 1113.03L303.29 1111.67M367.01 1057.41L367.99 1056.59M427.8 997.84L435.6 986.76M462.07 954.29L465.23 950.91M526.34 904.34L528.56 902.16M558.94 873.17L560.06 872.13M590.61 843.32L591.69 842.28M685.06 766.17L687.34 763.83M810.46 661.4L815.24 655.6M906.45 600.78L908.15 599.22M1250.2 442.2L1256.2 434.2M1780.87 371.24L1792.93 394.46" fill="none" stroke="#bdbdbd" stroke-width="3"/>
<path d="M255.8 1157.28 L271.8 1129.56 L239.8 1129.56 ZM286.4 1145.78 L302.4 1118.06 L270.4 1118.06 ZM318.7 1115.88 L334.7 1088.16 L302.7 1088.16 ZM351 1089.48 L367 1061.76 L335 1061.76 ZM384 1061.48 L400 1033.76 L368 1033.76 ZM415.7 1033.48 L431.7 1005.76 L399.7 1005.76 ZM447.7 988.08 L463.7 960.36 L431.7 960.36 ZM479.6 954.08 L495.6 926.36 L463.6 926.36 ZM511.4 937.58 L527.4 909.86 L495.4 909.86 ZM543.5 905.88 L559.5 878.16 L527.5 878.16 ZM575.5 876.38 L591.5 848.66 L559.5 848.66 ZM606.8 846.18 L622.8 818.46 L590.8 818.46 ZM638.3 825.48 L654.3 797.76 L622.3 797.76 ZM670.4 799.68 L686.4 771.96 L654.4 771.96 ZM702 767.28 L718 739.56 L686 739.56 ZM733.7 743.68 L749.7 715.96 L717.7 715.96 ZM765.8 722.28 L781.8 694.56 L749.8 694.56 ZM797.1 696.08 L813.1 668.36 L781.1 668.36 ZM828.6 657.88 L844.6 630.16 L812.6 630.16 ZM860 644.18 L876 616.46 L844 616.46 ZM891 633.48 L907 605.76 L875 605.76 ZM923.6 603.48 L939.6 575.76 L907.6 575.76 ZM954.1 590.48 L970.1 562.76 L938.1 562.76 ZM986.8 568.48 L1002.8 540.76 L970.8 540.76 ZM1018.4 558.48 L1034.4 530.76 L1002.4 530.76 ZM1049.2 542.48 L1065.2 514.76 L1033.2 514.76 ZM1081.3 522.48 L1097.3 494.76 L1065.3 494.76 ZM1112 514.48 L1128 486.76 L1096 486.76 ZM1145.1 510.08 L1161.1 482.36 L1129.1 482.36 ZM1176.8 493.08 L1192.8 465.36 L1160.8 465.36 ZM1207.2 472.08 L1223.2 444.36 L1191.2 444.36 ZM1237.6 477.48 L1253.6 449.76 L1221.6 449.76 ZM1268.8 435.88 L1284.8 408.16 L1252.8 408.16 ZM1299.5 434.78 L1315.5 407.06 L1283.5 407.06 ZM1330.8 428.78 L1346.8 401.06 L1314.8 401.06 ZM1362.5 424.38 L1378.5 396.66 L1346.5 396.66 ZM1394.6 409.68 L1410.6 381.96 L1378.6 381.96 ZM1425.5 402.38 L1441.5 374.66 L1409.5 374.66 ZM1456.9 394.48 L1472.9 366.76 L1440.9 366.76 ZM1488.2 387.38 L1504.2 359.66 L1472.2 359.66 ZM1519.5 385.28 L1535.5 357.56 L1503.5 357.56 ZM1551.8 381.58 L1567.8 353.86 L1535.8 353.86 ZM1582.5 377.38 L1598.5 349.66 L1566.5 349.66 ZM1614.2 379.48 L1630.2 351.76 L1598.2 351.76 ZM1645.7 377.38 L1661.7 349.66 L1629.7 349.66 ZM1677.4 374.28 L1693.4 346.56 L1661.4 346.56 ZM1708.9 374.28 L1724.9 346.56 L1692.9 346.56 ZM1740 372.18 L1756 344.46 L1724 344.46 ZM1771.2 371.08 L1787.2 343.36 L1755.2 343.36 ZM1802.6 431.58 L1818.6 403.86 L1786.6 403.86 Z" fill="#fff" stroke="none"/>
<path d="M255.8 1157.28 L271.8 1129.56 L239.8 1129.56 ZM286.4 1145.78 L302.4 1118.06 L270.4 1118.06 ZM318.7 1115.88 L334.7 1088.16 L302.7 1088.16 ZM351 1089.48 L367 1061.76 L335 1061.76 ZM384 1061.48 L400 1033.76 L368 1033.76 ZM415.7 1033.48 L431.7 1005.76 L399.7 1005.76 ZM447.7 988.08 L463.7 960.36 L431.7 960.36 ZM479.6 954.08 L495.6 926.36 L463.6 926.36 ZM511.4 937.58 L527.4 909.86 L495.4 909.86 ZM543.5 905.88 L559.5 878.16 L527.5 878.16 ZM575.5 876.38 L591.5 848.66 L559.5 848.66 ZM606.8 846.18 L622.8 818.46 L590.8 818.46 ZM638.3 825.48 L654.3 797.76 L622.3 797.76 ZM670.4 799.68 L686.4 771.96 L654.4 771.96 ZM702 767.28 L718 739.56 L686 739.56 ZM733.7 743.68 L749.7 715.96 L717.7 715.96 ZM765.8 722.28 L781.8 694.56 L749.8 694.56 ZM797.1 696.08 L813.1 668.36 L781.1 668.36 ZM828.6 657.88 L844.6 630.16 L812.6 630.16 ZM860 644.18 L876 616.46 L844 616.46 ZM891 633.48 L907 605.76 L875 605.76 ZM923.6 603.48 L939.6 575.76 L907.6 575.76 ZM954.1 590.48 L970.1 562.76 L938.1 562.76 ZM986.8 568.48 L1002.8 540.76 L970.8 540.76 ZM1018.4 558.48 L1034.4 530.76 L1002.4 530.76 ZM1049.2 542.48 L1065.2 514.76 L1033.2 514.76 ZM1081.3 522.48 L1097.3 494.76 L1065.3 494.76 ZM1112 514.48 L1128 486.76 L1096 486.76 ZM1145.1 510.08 L1161.1 482.36 L1129.1 482.36 ZM1176.8 493.08 L1192.8 465.36 L1160.8 465.36 ZM1207.2 472.08 L1223.2 444.36 L1191.2 444.36 ZM1237.6 477.48 L1253.6 449.76 L1221.6 449.76 ZM1268.8 435.88 L1284.8 408.16 L1252.8 408.16 ZM1299.5 434.78 L1315.5 407.06 L1283.5 407.06 ZM1330.8 428.78 L1346.8 401.06 L1314.8 401.06 ZM1362.5 424.38 L1378.5 396.66 L1346.5 396.66 ZM1394.6 409.68 L1410.6 381.96 L1378.6 381.96 ZM1425.5 402.38 L1441.5 374.66 L1409.5 374.66 ZM1456.9 394.48 L1472.9 366.76 L1440.9 366.76 ZM1488.2 387.38 L1504.2 359.66 L1472.2 359.66 ZM1519.5 385.28 L1535.5 357.56 L1503.5 357.56 ZM1551.8 381.58 L1567.8 353.86 L1535.8 353.86 ZM1582.5 377.38 L1598.5 349.66 L1566.5 349.66 ZM1614.2 379.48 L1630.2 351.76 L1598.2 351.76 ZM1645.7 377.38 L1661.7 349.66 L1629.7 349.66 ZM1677.4 374.28 L1693.4 346.56 L1661.4 346.56 ZM1708.9 374.28 L1724.9 346.56 L1692.9 346.56 ZM1740 372.18 L1756 344.46 L1724 344.46 ZM1771.2 371.08 L1787.2 343.36 L1755.2 343.36 ZM1802.6 431.58 L1818.6 403.86 L1786.6 403.86 Z" fill="none" stroke="#000" stroke-width="2.6"/>
<path d="M269.85 1228.89L272.35 1226.11M366.05 1163.96L368.95 1161.14M494.31 1058.01L496.69 1055.59M524.73 1024.37L530.17 1017.73M558.75 987.06L560.25 985.64M587.99 954.32L594.31 945.78M621 913.43L624.1 910.07M875.21 758.02L875.79 757.48M906.33 728.65L908.27 726.85M969.27 673.48L971.63 671.22M1221.45 569.48L1223.35 567.42" fill="none" stroke="#bdbdbd" stroke-width="3"/>
<path d="M255.8 1227.5 L272.8 1244.5 L255.8 1261.5 L238.8 1244.5 ZM286.4 1193.5 L303.4 1210.5 L286.4 1227.5 L269.4 1210.5 ZM318.7 1172.8 L335.7 1189.8 L318.7 1206.8 L301.7 1189.8 ZM351 1161.6 L368 1178.6 L351 1195.6 L334 1178.6 ZM384 1129.5 L401 1146.5 L384 1163.5 L367 1146.5 ZM415.7 1111.3 L432.7 1128.3 L415.7 1145.3 L398.7 1128.3 ZM447.7 1083.5 L464.7 1100.5 L447.7 1117.5 L430.7 1100.5 ZM479.6 1056 L496.6 1073 L479.6 1090 L462.6 1073 ZM511.4 1023.6 L528.4 1040.6 L511.4 1057.6 L494.4 1040.6 ZM543.5 984.5 L560.5 1001.5 L543.5 1018.5 L526.5 1001.5 ZM575.5 954.2 L592.5 971.2 L575.5 988.2 L558.5 971.2 ZM606.8 911.9 L623.8 928.9 L606.8 945.9 L589.8 928.9 ZM638.3 877.6 L655.3 894.6 L638.3 911.6 L621.3 894.6 ZM670.4 854 L687.4 871 L670.4 888 L653.4 871 ZM702 831.7 L719 848.7 L702 865.7 L685 848.7 ZM733.7 828.2 L750.7 845.2 L733.7 862.2 L716.7 845.2 ZM765.8 806.6 L782.8 823.6 L765.8 840.6 L748.8 823.6 ZM797.1 794.8 L814.1 811.8 L797.1 828.8 L780.1 811.8 ZM828.6 774 L845.6 791 L828.6 808 L811.6 791 ZM860 755.5 L877 772.5 L860 789.5 L843 772.5 ZM891 726 L908 743 L891 760 L874 743 ZM923.6 695.5 L940.6 712.5 L923.6 729.5 L906.6 712.5 ZM954.1 671 L971.1 688 L954.1 705 L937.1 688 ZM986.8 639.7 L1003.8 656.7 L986.8 673.7 L969.8 656.7 ZM1018.4 618 L1035.4 635 L1018.4 652 L1001.4 635 ZM1049.2 606 L1066.2 623 L1049.2 640 L1032.2 623 ZM1081.3 587 L1098.3 604 L1081.3 621 L1064.3 604 ZM1112 584 L1129 601 L1112 618 L1095 601 ZM1145.1 578 L1162.1 595 L1145.1 612 L1128.1 595 ZM1176.8 563.7 L1193.8 580.7 L1176.8 597.7 L1159.8 580.7 ZM1207.2 567.9 L1224.2 584.9 L1207.2 601.9 L1190.2 584.9 ZM1237.6 535 L1254.6 552 L1237.6 569 L1220.6 552 ZM1268.8 530.8 L1285.8 547.8 L1268.8 564.8 L1251.8 547.8 ZM1299.5 503.8 L1316.5 520.8 L1299.5 537.8 L1282.5 520.8 ZM1330.8 506.3 L1347.8 523.3 L1330.8 540.3 L1313.8 523.3 ZM1362.5 493.6 L1379.5 510.6 L1362.5 527.6 L1345.5 510.6 ZM1394.6 485.2 L1411.6 502.2 L1394.6 519.2 L1377.6 502.2 ZM1425.5 476.8 L1442.5 493.8 L1425.5 510.8 L1408.5 493.8 ZM1456.9 471.3 L1473.9 488.3 L1456.9 505.3 L1439.9 488.3 ZM1488.2 465.6 L1505.2 482.6 L1488.2 499.6 L1471.2 482.6 ZM1519.5 459.8 L1536.5 476.8 L1519.5 493.8 L1502.5 476.8 ZM1551.8 452.7 L1568.8 469.7 L1551.8 486.7 L1534.8 469.7 ZM1582.5 447 L1599.5 464 L1582.5 481 L1565.5 464 ZM1614.2 446.5 L1631.2 463.5 L1614.2 480.5 L1597.2 463.5 ZM1645.7 446.6 L1662.7 463.6 L1645.7 480.6 L1628.7 463.6 ZM1677.4 446.5 L1694.4 463.5 L1677.4 480.5 L1660.4 463.5 ZM1708.9 445 L1725.9 462 L1708.9 479 L1691.9 462 ZM1740 444.2 L1757 461.2 L1740 478.2 L1723 461.2 ZM1771.2 444.2 L1788.2 461.2 L1771.2 478.2 L1754.2 461.2 ZM1802.6 432.2 L1819.6 449.2 L1802.6 466.2 L1785.6 449.2 Z" fill="none" stroke="#000" stroke-width="3.2"/>
<path d="M267.64 1144.86L274.56 1134.74M366.14 1071.75L368.86 1069.15M462.09 994.31L465.21 990.99M492.24 958.93L498.76 950.27M523.6 916.4L531.3 905.6M557.63 872.96L561.37 868.84M585.84 835.02L596.46 816.28M620.31 781.92L624.79 776.58M873.77 617.84L877.23 613.86M905.03 582.38L909.57 577.32M937.58 546.03L940.12 543.17M967.49 511.32L973.41 504.18M1002.1 473.62L1003.1 472.68" fill="none" stroke="#bdbdbd" stroke-width="3"/>
<path d="M255.8 1146.03 L269.8 1170.28 L241.8 1170.28 ZM286.4 1101.23 L300.4 1125.48 L272.4 1125.48 ZM318.7 1078.33 L332.7 1102.58 L304.7 1102.58 ZM351 1070.13 L365 1094.38 L337 1094.38 ZM384 1038.43 L398 1062.68 L370 1062.68 ZM415.7 1012.43 L429.7 1036.68 L401.7 1036.68 ZM447.7 993.43 L461.7 1017.68 L433.7 1017.68 ZM479.6 959.53 L493.6 983.78 L465.6 983.78 ZM511.4 917.33 L525.4 941.58 L497.4 941.58 ZM543.5 872.33 L557.5 896.58 L529.5 896.58 ZM575.5 837.13 L589.5 861.38 L561.5 861.38 ZM606.8 781.83 L620.8 806.08 L592.8 806.08 ZM638.3 744.33 L652.3 768.58 L624.3 768.58 ZM670.4 717.83 L684.4 742.08 L656.4 742.08 ZM702 694.93 L716 719.18 L688 719.18 ZM733.7 689.03 L747.7 713.28 L719.7 713.28 ZM765.8 672.83 L779.8 697.08 L751.8 697.08 ZM797.1 657.33 L811.1 681.58 L783.1 681.58 ZM828.6 639.53 L842.6 663.78 L814.6 663.78 ZM860 617.53 L874 641.78 L846 641.78 ZM891 581.83 L905 606.08 L877 606.08 ZM923.6 545.53 L937.6 569.78 L909.6 569.78 ZM954.1 511.33 L968.1 535.58 L940.1 535.58 ZM986.8 471.83 L1000.8 496.08 L972.8 496.08 ZM1018.4 442.13 L1032.4 466.38 L1004.4 466.38 ZM1049.2 421.33 L1063.2 445.58 L1035.2 445.58 ZM1081.3 412.83 L1095.3 437.08 L1067.3 437.08 ZM1112 411.83 L1126 436.08 L1098 436.08 ZM1145.1 405.33 L1159.1 429.58 L1131.1 429.58 ZM1176.8 389.43 L1190.8 413.68 L1162.8 413.68 ZM1207.2 373.33 L1221.2 397.58 L1193.2 397.58 ZM1237.6 363.33 L1251.6 387.58 L1223.6 387.58 ZM1268.8 358.33 L1282.8 382.58 L1254.8 382.58 ZM1299.5 350.33 L1313.5 374.58 L1285.5 374.58 ZM1330.8 327.13 L1344.8 351.38 L1316.8 351.38 ZM1362.5 316.03 L1376.5 340.28 L1348.5 340.28 ZM1394.6 305.63 L1408.6 329.88 L1380.6 329.88 ZM1425.5 297.13 L1439.5 321.38 L1411.5 321.38 ZM1456.9 292.43 L1470.9 316.68 L1442.9 316.68 ZM1488.2 287.63 L1502.2 311.88 L1474.2 311.88 ZM1519.5 281.43 L1533.5 305.68 L1505.5 305.68 ZM1551.8 278.23 L1565.8 302.48 L1537.8 302.48 ZM1582.5 268.93 L1596.5 293.18 L1568.5 293.18 ZM1614.2 265.53 L1628.2 289.78 L1600.2 289.78 ZM1645.7 271.53 L1659.7 295.78 L1631.7 295.78 ZM1677.4 274.73 L1691.4 298.98 L1663.4 298.98 ZM1708.9 276.83 L1722.9 301.08 L1694.9 301.08 ZM1740 276.83 L1754 301.08 L1726 301.08 ZM1771.2 280.93 L1785.2 305.18 L1757.2 305.18 ZM1802.6 287.43 L1816.6 311.68 L1788.6 311.68 Z" fill="#fff" stroke="none"/>
<path d="M255.8 1146.03 L269.8 1170.28 L241.8 1170.28 ZM286.4 1101.23 L300.4 1125.48 L272.4 1125.48 ZM318.7 1078.33 L332.7 1102.58 L304.7 1102.58 ZM351 1070.13 L365 1094.38 L337 1094.38 ZM384 1038.43 L398 1062.68 L370 1062.68 ZM415.7 1012.43 L429.7 1036.68 L401.7 1036.68 ZM447.7 993.43 L461.7 1017.68 L433.7 1017.68 ZM479.6 959.53 L493.6 983.78 L465.6 983.78 ZM511.4 917.33 L525.4 941.58 L497.4 941.58 ZM543.5 872.33 L557.5 896.58 L529.5 896.58 ZM575.5 837.13 L589.5 861.38 L561.5 861.38 ZM606.8 781.83 L620.8 806.08 L592.8 806.08 ZM638.3 744.33 L652.3 768.58 L624.3 768.58 ZM670.4 717.83 L684.4 742.08 L656.4 742.08 ZM702 694.93 L716 719.18 L688 719.18 ZM733.7 689.03 L747.7 713.28 L719.7 713.28 ZM765.8 672.83 L779.8 697.08 L751.8 697.08 ZM797.1 657.33 L811.1 681.58 L783.1 681.58 ZM828.6 639.53 L842.6 663.78 L814.6 663.78 ZM860 617.53 L874 641.78 L846 641.78 ZM891 581.83 L905 606.08 L877 606.08 ZM923.6 545.53 L937.6 569.78 L909.6 569.78 ZM954.1 511.33 L968.1 535.58 L940.1 535.58 ZM986.8 471.83 L1000.8 496.08 L972.8 496.08 ZM1018.4 442.13 L1032.4 466.38 L1004.4 466.38 ZM1049.2 421.33 L1063.2 445.58 L1035.2 445.58 ZM1081.3 412.83 L1095.3 437.08 L1067.3 437.08 ZM1112 411.83 L1126 436.08 L1098 436.08 ZM1145.1 405.33 L1159.1 429.58 L1131.1 429.58 ZM1176.8 389.43 L1190.8 413.68 L1162.8 413.68 ZM1207.2 373.33 L1221.2 397.58 L1193.2 397.58 ZM1237.6 363.33 L1251.6 387.58 L1223.6 387.58 ZM1268.8 358.33 L1282.8 382.58 L1254.8 382.58 ZM1299.5 350.33 L1313.5 374.58 L1285.5 374.58 ZM1330.8 327.13 L1344.8 351.38 L1316.8 351.38 ZM1362.5 316.03 L1376.5 340.28 L1348.5 340.28 ZM1394.6 305.63 L1408.6 329.88 L1380.6 329.88 ZM1425.5 297.13 L1439.5 321.38 L1411.5 321.38 ZM1456.9 292.43 L1470.9 316.68 L1442.9 316.68 ZM1488.2 287.63 L1502.2 311.88 L1474.2 311.88 ZM1519.5 281.43 L1533.5 305.68 L1505.5 305.68 ZM1551.8 278.23 L1565.8 302.48 L1537.8 302.48 ZM1582.5 268.93 L1596.5 293.18 L1568.5 293.18 ZM1614.2 265.53 L1628.2 289.78 L1600.2 289.78 ZM1645.7 271.53 L1659.7 295.78 L1631.7 295.78 ZM1677.4 274.73 L1691.4 298.98 L1663.4 298.98 ZM1708.9 276.83 L1722.9 301.08 L1694.9 301.08 ZM1740 276.83 L1754 301.08 L1726 301.08 ZM1771.2 280.93 L1785.2 305.18 L1757.2 305.18 ZM1802.6 287.43 L1816.6 311.68 L1788.6 311.68 Z" fill="none" stroke="#000" stroke-width="2.6"/>
<path d="M367.18 1065.31L367.82 1064.79M462.09 982.61L465.21 979.29M494.31 949.01L496.69 946.59M525.1 915.68L529.8 910.22M558.26 879.36L560.74 876.84M588.6 845.49L593.7 839.11M621.46 807.67L623.64 805.43M904.95 617L909.65 611.7M969.91 560.17L970.99 559.23" fill="none" stroke="#bdbdbd" stroke-width="3"/>
<path d="M274.68 1147.3 L246.36 1163.65 L246.36 1130.95 ZM305.28 1118.5 L276.96 1134.85 L276.96 1102.15 ZM337.58 1096.4 L309.26 1112.75 L309.26 1080.05 ZM369.88 1078.7 L341.56 1095.05 L341.56 1062.35 ZM402.88 1051.4 L374.56 1067.75 L374.56 1035.05 ZM434.58 1023.4 L406.26 1039.75 L406.26 1007.05 ZM466.58 997.9 L438.26 1014.25 L438.26 981.55 ZM498.48 964 L470.16 980.35 L470.16 947.65 ZM530.28 931.6 L501.96 947.95 L501.96 915.25 ZM562.38 894.3 L534.06 910.65 L534.06 877.95 ZM594.38 861.9 L566.06 878.25 L566.06 845.55 ZM625.68 822.7 L597.36 839.05 L597.36 806.35 ZM657.18 790.4 L628.86 806.75 L628.86 774.05 ZM689.28 764.6 L660.96 780.95 L660.96 748.25 ZM720.88 744.7 L692.56 761.05 L692.56 728.35 ZM752.58 730 L724.26 746.35 L724.26 713.65 ZM784.68 712.6 L756.36 728.95 L756.36 696.25 ZM815.98 696.8 L787.66 713.15 L787.66 680.45 ZM847.48 670.6 L819.16 686.95 L819.16 654.25 ZM878.88 648 L850.56 664.35 L850.56 631.65 ZM909.88 632.7 L881.56 649.05 L881.56 616.35 ZM942.48 596 L914.16 612.35 L914.16 579.65 ZM972.98 574 L944.66 590.35 L944.66 557.65 ZM1005.68 545.4 L977.36 561.75 L977.36 529.05 ZM1037.28 527.4 L1008.96 543.75 L1008.96 511.05 ZM1068.08 504.5 L1039.76 520.85 L1039.76 488.15 ZM1100.18 488.5 L1071.86 504.85 L1071.86 472.15 ZM1130.88 493.8 L1102.56 510.15 L1102.56 477.45 ZM1163.98 479.6 L1135.66 495.95 L1135.66 463.25 ZM1195.68 464 L1167.36 480.35 L1167.36 447.65 ZM1226.08 467.3 L1197.76 483.65 L1197.76 450.95 ZM1256.48 461.3 L1228.16 477.65 L1228.16 444.95 ZM1287.68 433.1 L1259.36 449.45 L1259.36 416.75 ZM1318.38 412.2 L1290.06 428.55 L1290.06 395.85 ZM1349.68 418.7 L1321.36 435.05 L1321.36 402.35 ZM1381.38 410.5 L1353.06 426.85 L1353.06 394.15 ZM1413.48 404 L1385.16 420.35 L1385.16 387.65 ZM1444.38 399 L1416.06 415.35 L1416.06 382.65 ZM1475.78 395 L1447.46 411.35 L1447.46 378.65 ZM1507.08 391.8 L1478.76 408.15 L1478.76 375.45 ZM1538.38 387.7 L1510.06 404.05 L1510.06 371.35 ZM1570.68 386.6 L1542.36 402.95 L1542.36 370.25 ZM1601.38 383.5 L1573.06 399.85 L1573.06 367.15 ZM1633.08 382.5 L1604.76 398.85 L1604.76 366.15 ZM1664.58 383.5 L1636.26 399.85 L1636.26 367.15 ZM1696.28 382.5 L1667.96 398.85 L1667.96 366.15 ZM1727.78 380.4 L1699.46 396.75 L1699.46 364.05 ZM1758.88 378.9 L1730.56 395.25 L1730.56 362.55 ZM1790.08 377.3 L1761.76 393.65 L1761.76 360.95 ZM1821.48 375 L1793.16 391.35 L1793.16 358.65 Z" fill="#fff" stroke="none"/>
<path d="M274.68 1147.3 L246.36 1163.65 L246.36 1130.95 ZM305.28 1118.5 L276.96 1134.85 L276.96 1102.15 ZM337.58 1096.4 L309.26 1112.75 L309.26 1080.05 ZM369.88 1078.7 L341.56 1095.05 L341.56 1062.35 ZM402.88 1051.4 L374.56 1067.75 L374.56 1035.05 ZM434.58 1023.4 L406.26 1039.75 L406.26 1007.05 ZM466.58 997.9 L438.26 1014.25 L438.26 981.55 ZM498.48 964 L470.16 980.35 L470.16 947.65 ZM530.28 931.6 L501.96 947.95 L501.96 915.25 ZM562.38 894.3 L534.06 910.65 L534.06 877.95 ZM594.38 861.9 L566.06 878.25 L566.06 845.55 ZM625.68 822.7 L597.36 839.05 L597.36 806.35 ZM657.18 790.4 L628.86 806.75 L628.86 774.05 ZM689.28 764.6 L660.96 780.95 L660.96 748.25 ZM720.88 744.7 L692.56 761.05 L692.56 728.35 ZM752.58 730 L724.26 746.35 L724.26 713.65 ZM784.68 712.6 L756.36 728.95 L756.36 696.25 ZM815.98 696.8 L787.66 713.15 L787.66 680.45 ZM847.48 670.6 L819.16 686.95 L819.16 654.25 ZM878.88 648 L850.56 664.35 L850.56 631.65 ZM909.88 632.7 L881.56 649.05 L881.56 616.35 ZM942.48 596 L914.16 612.35 L914.16 579.65 ZM972.98 574 L944.66 590.35 L944.66 557.65 ZM1005.68 545.4 L977.36 561.75 L977.36 529.05 ZM1037.28 527.4 L1008.96 543.75 L1008.96 511.05 ZM1068.08 504.5 L1039.76 520.85 L1039.76 488.15 ZM1100.18 488.5 L1071.86 504.85 L1071.86 472.15 ZM1130.88 493.8 L1102.56 510.15 L1102.56 477.45 ZM1163.98 479.6 L1135.66 495.95 L1135.66 463.25 ZM1195.68 464 L1167.36 480.35 L1167.36 447.65 ZM1226.08 467.3 L1197.76 483.65 L1197.76 450.95 ZM1256.48 461.3 L1228.16 477.65 L1228.16 444.95 ZM1287.68 433.1 L1259.36 449.45 L1259.36 416.75 ZM1318.38 412.2 L1290.06 428.55 L1290.06 395.85 ZM1349.68 418.7 L1321.36 435.05 L1321.36 402.35 ZM1381.38 410.5 L1353.06 426.85 L1353.06 394.15 ZM1413.48 404 L1385.16 420.35 L1385.16 387.65 ZM1444.38 399 L1416.06 415.35 L1416.06 382.65 ZM1475.78 395 L1447.46 411.35 L1447.46 378.65 ZM1507.08 391.8 L1478.76 408.15 L1478.76 375.45 ZM1538.38 387.7 L1510.06 404.05 L1510.06 371.35 ZM1570.68 386.6 L1542.36 402.95 L1542.36 370.25 ZM1601.38 383.5 L1573.06 399.85 L1573.06 367.15 ZM1633.08 382.5 L1604.76 398.85 L1604.76 366.15 ZM1664.58 383.5 L1636.26 399.85 L1636.26 367.15 ZM1696.28 382.5 L1667.96 398.85 L1667.96 366.15 ZM1727.78 380.4 L1699.46 396.75 L1699.46 364.05 ZM1758.88 378.9 L1730.56 395.25 L1730.56 362.55 ZM1790.08 377.3 L1761.76 393.65 L1761.76 360.95 ZM1821.48 375 L1793.16 391.35 L1793.16 358.65 Z" fill="none" stroke="#000" stroke-width="2.8"/>
</g>
<rect x="256.5" y="34.5" width="1540.5" height="1239" fill="none" stroke="#000" stroke-width="5"/>
<path d="M1797 32V1297.5" stroke="#000" stroke-width="6" fill="none"/>
<path d="M256.5 1273.5V1297.5M410.55 1273.5V1285.5M564.6 1273.5V1297.5M718.65 1273.5V1285.5M872.7 1273.5V1297.5M1026.75 1273.5V1285.5M1180.8 1273.5V1297.5M1334.85 1273.5V1285.5M1488.9 1273.5V1297.5M1642.95 1273.5V1285.5M256.5 1273.5H232.5M256.5 945.56H232.5M256.5 617.62H232.5M256.5 289.69H232.5M256.5 1044.28H244.5M256.5 716.34H244.5M256.5 388.4H244.5M256.5 60.47H244.5M1797 1242.53H1809M1797 1087.65H1821M1797 932.77H1809M1797 777.9H1821M1797 623.02H1809M1797 468.15H1821M1797 313.27H1809M1797 158.4H1821" stroke="#000" stroke-width="5" fill="none"/>
<path d="M724 77.9H770.8M808.2 77.9H855.6" stroke="#bdbdbd" stroke-width="2" fill="none"/>
<path d="M777.5 65.4 L802.5 65.4 L802.5 90.4 L777.5 90.4 Z" fill="#fff" stroke="#000" stroke-width="3" stroke-linejoin="miter"/>
<path d="M724 149.6H770.8M808.2 149.6H855.6" stroke="#bdbdbd" stroke-width="2" fill="none"/>
<path d="M790 130.72 L806.35 159.04 L773.65 159.04 Z" fill="#fff" stroke="#000" stroke-width="3" stroke-linejoin="miter"/>
<path d="M724 221.3H770.8M808.2 221.3H855.6" stroke="#bdbdbd" stroke-width="2" fill="none"/>
<path d="M790 240.18 L806.35 211.86 L773.65 211.86 Z" fill="#fff" stroke="#000" stroke-width="3" stroke-linejoin="miter"/>
<path d="M724 293H770.8M808.2 293H855.6" stroke="#bdbdbd" stroke-width="2" fill="none"/>
<path d="M808.88 293 L780.56 309.35 L780.56 276.65 Z" fill="#fff" stroke="#000" stroke-width="3" stroke-linejoin="miter"/>
<path d="M724 364.7H770.8M808.2 364.7H855.6" stroke="#bdbdbd" stroke-width="2" fill="none"/>
<path d="M790 346.9 L807.8 364.7 L790 382.5 L772.2 364.7 Z" fill="none" stroke="#000" stroke-width="3" stroke-linejoin="miter"/>
<g font-family="'Liberation Serif','Times New Roman',serif" font-size="58.5" fill="#000">
<text x="257" y="1357" text-anchor="middle" font-size="56.5">30</text>
<text x="565.1" y="1357" text-anchor="middle" font-size="56.5">40</text>
<text x="873.2" y="1357" text-anchor="middle" font-size="56.5">50</text>
<text x="1181.3" y="1357" text-anchor="middle" font-size="56.5">60</text>
<text x="1489.4" y="1357" text-anchor="middle" font-size="56.5">70</text>
<text x="1797.5" y="1357" text-anchor="middle" font-size="56.5">80</text>
<text x="216.5" y="1296.3" text-anchor="end">10<tspan dy="-24.5" font-size="41.5">-1</tspan></text>
<text x="216.5" y="968.36" text-anchor="end">10<tspan dy="-24.5" font-size="41.5">0</tspan></text>
<text x="216.5" y="640.42" text-anchor="end">10<tspan dy="-24.5" font-size="41.5">1</tspan></text>
<text x="216.5" y="312.49" text-anchor="end">10<tspan dy="-24.5" font-size="41.5">2</tspan></text>
<text x="1838" y="1107.15">75</text>
<text x="1838" y="797.4">80</text>
<text x="1838" y="487.65">85</text>
<text x="1838" y="177.9">90</text>
<text x="1026" y="1453.7" text-anchor="middle">Temperature (°C)</text>
<text transform="translate(83.6 654.5) rotate(-90)" text-anchor="middle">lg(G*) (kPa)</text>
<text transform="translate(1961.5 646) rotate(-90)" text-anchor="middle">δ (°)</text>
<text x="870" y="97.4">0% CB</text>
<text x="870" y="169.1">1% CB</text>
<text x="870" y="240.8">2% CB</text>
<text x="870" y="312.5">3% CB</text>
<text x="870" y="384.2">4% CB</text>
</g>
</svg></body></html>
